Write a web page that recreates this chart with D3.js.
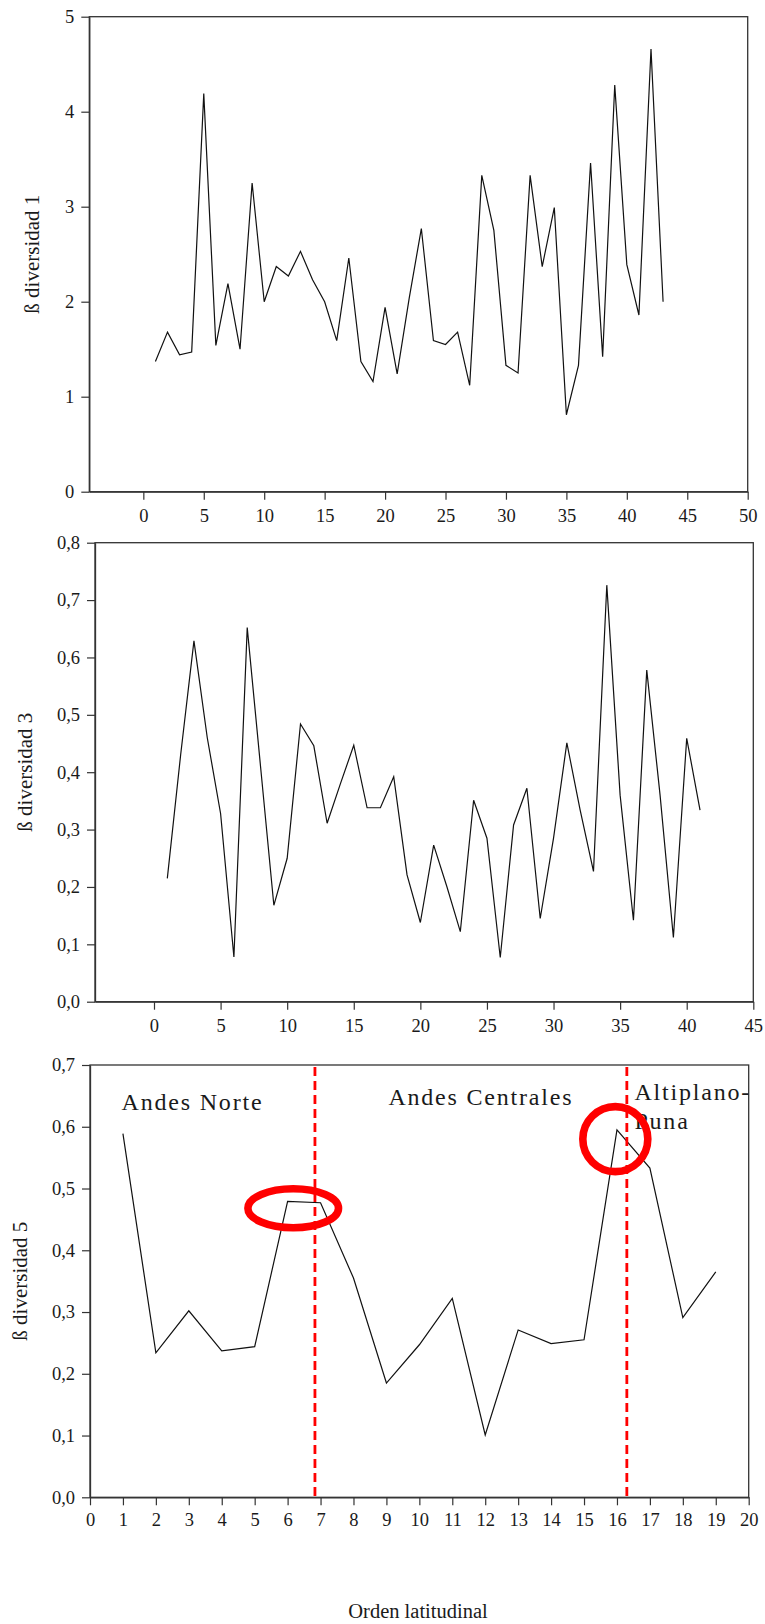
<!DOCTYPE html>
<html>
<head>
<meta charset="utf-8">
<script src="https://cdn.jsdelivr.net/npm/d3@7"></script>
<style>
  body { margin: 0; background: #fff; }
  svg text { font-family: "Liberation Serif", "Times New Roman", serif; fill: #1a1a1a; }
</style>
</head>
<body>
<div id="chart"></div>
<script>
// panel 1 - beta diversidad 1
const orden1 = [1,2,3,4,5,6,7,8,9,10,11,12,13,14,15,16,17,18,19,20,21,22,23,24,25,26,27,28,29,30,31,32,33,34,35,36,37,38,39,40,41,42,43];
const beta1 = [1.37,1.68,1.44,1.47,4.19,1.54,2.19,1.50,3.25,2.00,2.37,2.27,2.53,2.23,2.00,1.59,2.46,1.37,1.16,1.94,1.24,2.04,2.77,1.59,1.55,1.68,1.12,3.33,2.75,1.33,1.25,3.33,2.37,2.99,0.81,1.33,3.46,1.42,4.28,2.39,1.86,4.66,2.00];
const xTicks1 = [0,5,10,15,20,25,30,35,40,45,50];
const yTicks1 = [0,1,2,3,4,5];

// panel 2 - beta diversidad 3
const orden3 = [1,2,3,4,5,6,7,8,9,10,11,12,13,14,15,16,17,18,19,20,21,22,23,24,25,26,27,28,29,30,31,32,33,34,35,36,37,38,39,40,41];
const beta3 = [0.215,0.43,0.629,0.46,0.328,0.078,0.652,0.41,0.168,0.25,0.484,0.446,0.311,0.38,0.447,0.338,0.338,0.392,0.221,0.138,0.273,0.2,0.122,0.351,0.285,0.077,0.308,0.372,0.145,0.285,0.451,0.334,0.227,0.726,0.36,0.142,0.578,0.36,0.112,0.459,0.334];
const xTicks3 = [0,5,10,15,20,25,30,35,40,45];
const yTicks3 = [0,0.1,0.2,0.3,0.4,0.5,0.6,0.7,0.8];

// panel 3 - beta diversidad 5
const orden5 = [1,2,3,4,5,6,7,8,9,10,11,12,13,14,15,16,17,18,19];
const beta5 = [0.589,0.234,0.302,0.237,0.244,0.479,0.477,0.355,0.185,0.247,0.322,0.101,0.271,0.249,0.255,0.595,0.533,0.291,0.365];
const xTicks5 = [0,1,2,3,4,5,6,7,8,9,10,11,12,13,14,15,16,17,18,19,20];
const yTicks5 = [0,0.1,0.2,0.3,0.4,0.5,0.6,0.7];

// regiones y limites (orden latitudinal)
const limites = [6.83, 16.3];
const regiones = ["Andes Norte", "Andes Centrales", "Altiplano-", "Puna"];
const regionX = [0.96, 9.06, 16.53, 16.53];
const regionY = [0.627, 0.635, 0.643, 0.596];
// resaltados: [x, y]
const resaltados = [[6.17, 0.468], [15.95, 0.58]];

const width = 765, height = 1624;
const es = d3.formatLocale({ decimal: ",", thousands: ".", grouping: [3], currency: ["", "€"] });

const svg = d3.select("#chart").append("svg")
    .attr("width", width).attr("height", height);
svg.append("rect").attr("width", width).attr("height", height).attr("fill", "#fff");

function drawPanel(opts) {
    const { box, xDomain, yDomain, xs, ys, xTicks, yTicks, yFormat, yLabel, labelX, xPad } = opts;
    const x = d3.scaleLinear().domain(xDomain).range([box.left, box.right]);
    const y = d3.scaleLinear().domain(yDomain).range([box.bottom, box.top]);
    const g = svg.append("g");

    // marco
    g.append("rect")
        .attr("x", box.left).attr("y", box.top)
        .attr("width", box.right - box.left).attr("height", box.bottom - box.top)
        .attr("fill", "none").attr("stroke", "#333").attr("stroke-width", 1.3);

    const xAxis = g.append("g")
        .attr("transform", "translate(0," + box.bottom + ")")
        .call(d3.axisBottom(x).tickValues(xTicks).tickSize(8).tickSizeOuter(0).tickPadding(xPad).tickFormat(d3.format("d")));
    const yAxis = g.append("g")
        .attr("transform", "translate(" + box.left + ",0)")
        .call(d3.axisLeft(y).tickValues(yTicks).tickSize(8).tickSizeOuter(0).tickPadding(7).tickFormat(yFormat));
    [xAxis, yAxis].forEach(a => {
        a.select(".domain").attr("stroke", "#333").attr("stroke-width", 1.3);
        a.selectAll(".tick line").attr("stroke", "#333").attr("stroke-width", 1.2);
        a.selectAll(".tick text").attr("font-size", 18.5).attr("fill", "#1a1a1a")
            .style("font-family", "'Liberation Serif', 'Times New Roman', serif");
    });

    const line = d3.line().x((d, i) => x(xs[i])).y(d => y(d));
    g.append("path")
        .datum(ys)
        .attr("fill", "none")
        .attr("stroke", "#111")
        .attr("stroke-width", 1.2)
        .attr("stroke-linejoin", "miter")
        .attr("d", line);

    g.append("text")
        .attr("transform", "translate(" + labelX + "," + ((box.top + box.bottom) / 2) + ") rotate(-90)")
        .attr("text-anchor", "middle")
        .attr("font-size", 21)
        .text(yLabel);

    return { g, x, y };
}

drawPanel({
    box: { left: 89.3, right: 747.7, top: 16.7, bottom: 491.7 },
    xDomain: [-4.47, 50], yDomain: [0, 5],
    xs: orden1, ys: beta1, xTicks: xTicks1, yTicks: yTicks1,
    yFormat: d3.format("d"), yLabel: "ß diversidad 1", labelX: 39, xPad: 9
});

drawPanel({
    box: { left: 95, right: 753.3, top: 542.7, bottom: 1001.7 },
    xDomain: [-4.43, 45], yDomain: [0, 0.8],
    xs: orden3, ys: beta3, xTicks: xTicks3, yTicks: yTicks3,
    yFormat: es.format(".1f"), yLabel: "ß diversidad 3", labelX: 32, xPad: 9
});

const p3 = drawPanel({
    box: { left: 90, right: 748.7, top: 1065, bottom: 1497.3 },
    xDomain: [0, 20], yDomain: [0, 0.7],
    xs: orden5, ys: beta5, xTicks: xTicks5, yTicks: yTicks5,
    yFormat: es.format(".1f"), yLabel: "ß diversidad 5", labelX: 27, xPad: 8
});

// limites entre regiones
p3.g.selectAll(".limite")
    .data(limites)
    .join("line")
    .attr("class", "limite")
    .attr("x1", d => p3.x(d)).attr("x2", d => p3.x(d))
    .attr("y1", p3.y(0.7) + 2).attr("y2", p3.y(0))
    .attr("stroke", "#f00")
    .attr("stroke-width", 2.8)
    .attr("stroke-dasharray", "9,5");

// nombres de regiones
p3.g.selectAll(".region")
    .data(regiones)
    .join("text")
    .attr("class", "region")
    .attr("x", (d, i) => p3.x(regionX[i]))
    .attr("y", (d, i) => p3.y(regionY[i]))
    .attr("font-size", 24)
    .attr("letter-spacing", 1.8)
    .attr("fill", "#000")
    .text(d => d);

// resaltados en rojo
p3.g.append("ellipse")
    .attr("cx", p3.x(resaltados[0][0])).attr("cy", p3.y(resaltados[0][1]))
    .attr("rx", 45.3).attr("ry", 19.5)
    .attr("fill", "none").attr("stroke", "#f00").attr("stroke-width", 7.6);
p3.g.append("circle")
    .attr("cx", p3.x(resaltados[1][0])).attr("cy", p3.y(resaltados[1][1]))
    .attr("r", 32.5)
    .attr("fill", "none").attr("stroke", "#f00").attr("stroke-width", 7.6);

// titulo eje x
svg.append("text")
    .attr("x", 418).attr("y", 1618)
    .attr("text-anchor", "middle")
    .attr("font-size", 20.5)
    .text("Orden latitudinal");
</script>
</body>
</html>
